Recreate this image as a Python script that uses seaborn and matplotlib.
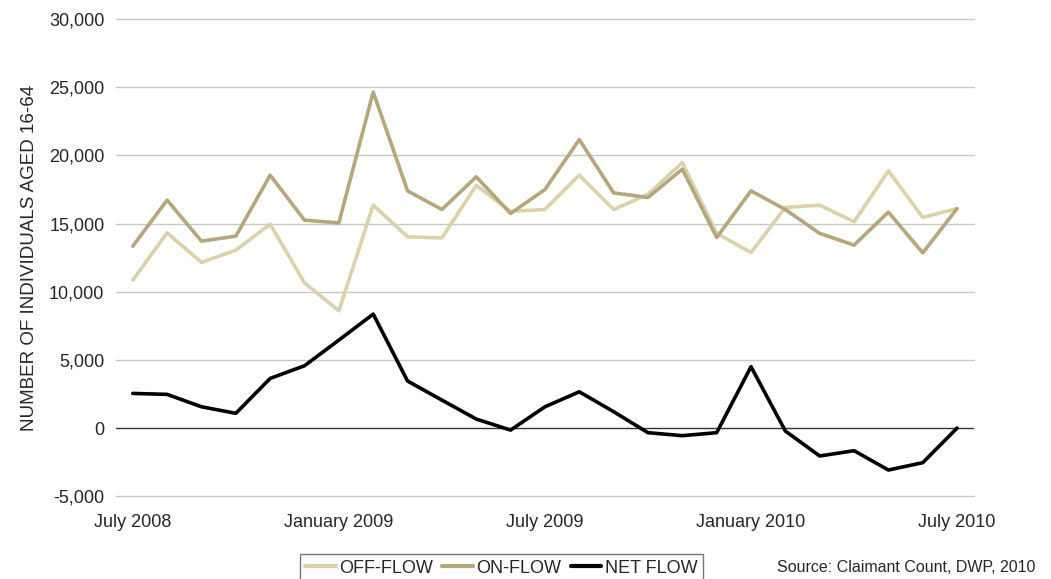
import pandas as pd
import seaborn as sns
import matplotlib.pyplot as plt

sns.set_style("white")
plt.rcParams['font.family'] = ['Liberation Sans', 'DejaVu Sans']

# monthly, July 2008 - July 2010
months = list(range(25))
tick_pos = [0, 6, 12, 18, 24]
tick_labels = ["July 2008", "January 2009", "July 2009", "January 2010", "July 2010"]

off_flow = [10850, 14320, 12150, 13050, 14950, 10650, 8600, 16350, 14030, 13950,
            17800, 15900, 16030, 18550, 16030, 17150, 19480, 14280, 12880, 16180,
            16350, 15130, 18870, 15450, 16100]
on_flow = [13340, 16720, 13710, 14080, 18550, 15250, 15050, 24650, 17400, 16030,
           18430, 15740, 17500, 21160, 17250, 16910, 18990, 13980, 17400, 16030,
           14280, 13420, 15840, 12850, 16100]
net_flow = [2540, 2470, 1560, 1080, 3640, 4570, 6450, 8360, 3450, 2050,
            660, -150, 1560, 2660, 1200, -340, -560, -340, 4500, -220,
            -2050, -1660, -3080, -2540, 0]

series = ["OFF-FLOW", "ON-FLOW", "NET FLOW"]
colors = {"OFF-FLOW": "#dcd2a9", "ON-FLOW": "#b6a67b", "NET FLOW": "#000000"}

df = pd.DataFrame({
    "month": months * 3,
    "value": off_flow + on_flow + net_flow,
    "series": [series[0]] * 25 + [series[1]] * 25 + [series[2]] * 25,
})

fig = plt.figure(figsize=(10.51, 5.79), dpi=100)
ax = fig.add_axes([0.110, 0.143, 0.817, 0.824])

# gridlines, zero line darker
for y in range(-5000, 30001, 5000):
    if y == 0:
        ax.axhline(y, color="#333333", lw=1.0, zorder=1)
    else:
        ax.axhline(y, color="#c8c8c8", lw=1.0, zorder=0, clip_on=False)

sns.lineplot(data=df, x="month", y="value", hue="series", hue_order=series,
             palette=colors, linewidth=2.6, ax=ax, legend=False, zorder=3)

ax.set_xlim(-0.5, 24.5)
ax.set_ylim(-5000, 30000)
ax.set_yticks(range(-5000, 30001, 5000))
ax.set_yticklabels([f"{v:,}" for v in range(-5000, 30001, 5000)], fontsize=13)
ax.set_xticks(tick_pos)
ax.set_xticklabels(tick_labels, fontsize=13)
ax.tick_params(length=0, pad=8)
ax.tick_params(axis="x", pad=13)
for s in ax.spines.values():
    s.set_visible(False)
ax.set_xlabel("")
ax.set_ylabel("NUMBER OF INDIVIDUALS AGED 16-64", fontsize=13.5, labelpad=8)
ax.grid(False)

handles = [plt.Line2D([], [], color=colors[s], lw=3) for s in series]
leg = fig.legend(handles, series, loc="upper center", bbox_to_anchor=(0.477, 0.043),
                 ncol=3, fontsize=13, frameon=True, fancybox=False,
                 handlelength=1.7, handletextpad=0.2, columnspacing=0.5,
                 borderpad=0.3, borderaxespad=0)
leg.get_frame().set_edgecolor("#555555")
leg.get_frame().set_linewidth(1.0)

fig.text(0.985, 0.020, "Source: Claimant Count, DWP, 2010", ha="right", va="center",
         fontsize=11.5)

plt.savefig("out.png", dpi=100)
plt.close()
